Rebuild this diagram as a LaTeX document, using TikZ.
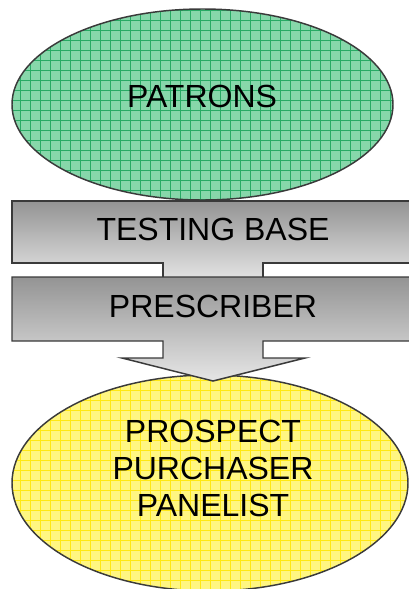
\documentclass[tikz,border=0pt]{standalone}
\usepackage{fontspec}
\setmainfont{Liberation Sans}
\definecolor{patronfill}{RGB}{135,215,170}
\definecolor{patrongrid}{RGB}{40,170,100}
\definecolor{prospectfill}{RGB}{255,246,130}
\definecolor{prospectgrid}{RGB}{255,232,20}
\definecolor{edgegray}{RGB}{58,58,58}

\begin{document}
\begin{tikzpicture}[x=0.75pt,y=0.75pt,yscale=-1,xscale=1,
    lbl/.style={font=\fontsize{24}{27.4}\selectfont, align=center, inner sep=0pt},
    ball/.style 2 args={draw=edgegray, line width=1.1pt, fill=#1,
      path picture={\draw[#2, line width=0.75pt] (path picture bounding box.south west) grid[step=7.5pt] (path picture bounding box.north east);}},
    band/.style={draw=edgegray, line width=1.1pt, top color=black!42, middle color=black!20, bottom color=black!10}]
  \useasboundingbox (0,0) rectangle (408,589);
  % ellipses
  \draw [ball={patronfill}{patrongrid}] (202.5,104.5) ellipse (190.5 and 95.5);
  \draw [ball={prospectfill}{prospectgrid}] (210,483) ellipse (198 and 108);
  % arrow
  \draw [band] (12,201) -- (410,201) -- (410,263) -- (263,263) -- (263,281) -- (163,281) -- (163,263) -- (12,263) -- cycle ;
  \draw [band] (12,277) -- (410,277) -- (410,341) -- (263,341) -- (263,358) -- (305,358) -- (213,381) -- (122,358) -- (163,358) -- (163,341) -- (12,341) -- cycle ;
  % labels
  \node [lbl] (patrons) at (202,96) {PATRONS};
  \node [lbl] (testing) at (213,229) {TESTING BASE};
  \node [lbl] (prescriber) at (213,306.5) {PRESCRIBER};
  \node [lbl] (prospect) at (213,468.5) {PROSPECT\\PURCHASER\\PANELIST};
\end{tikzpicture}
\end{document}
